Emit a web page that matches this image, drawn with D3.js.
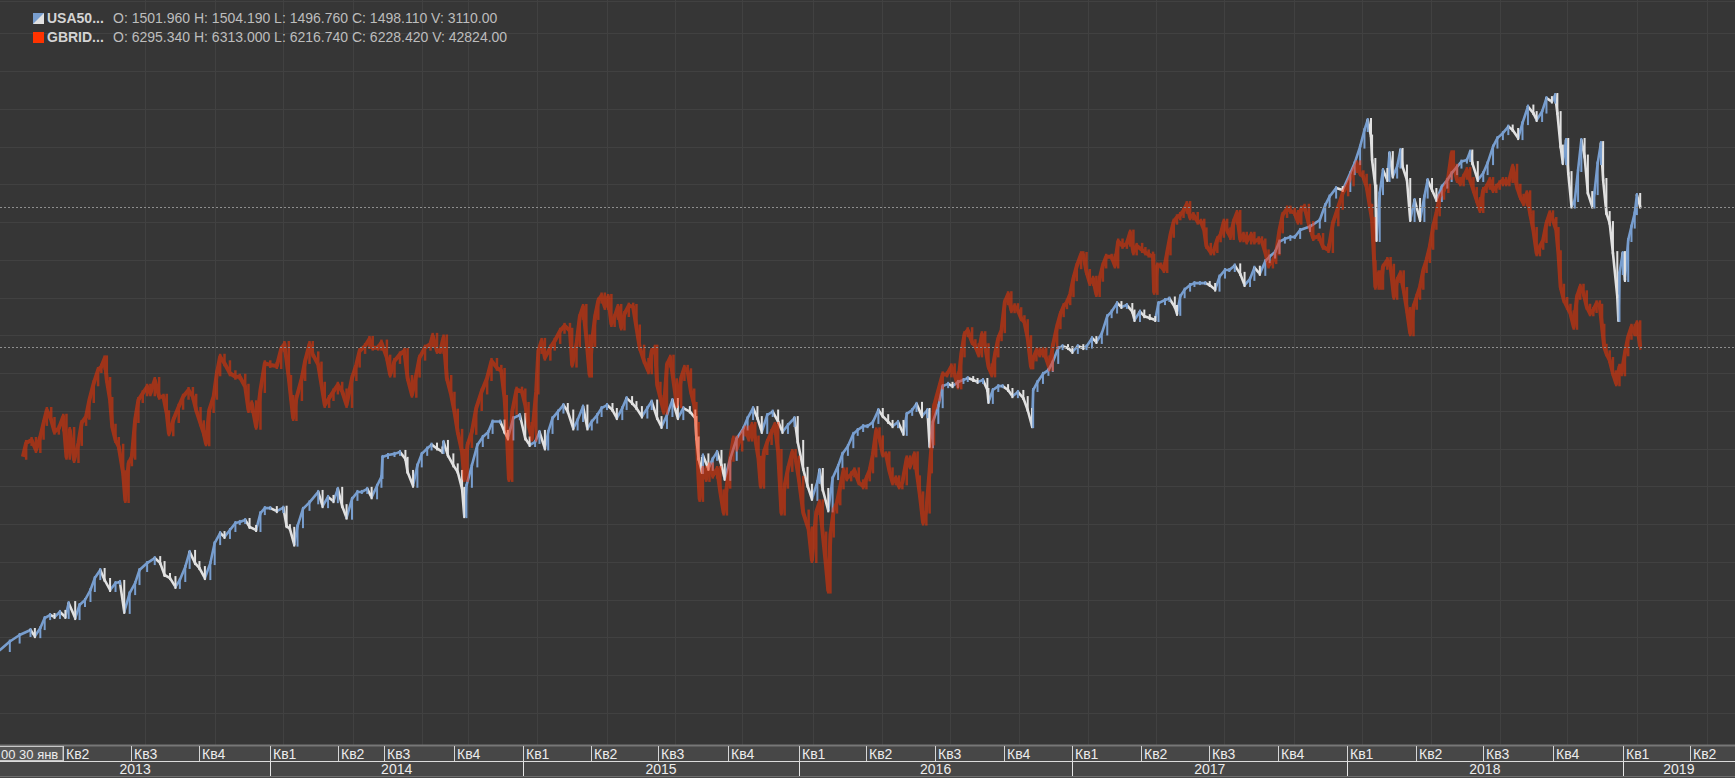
<!DOCTYPE html>
<html>
<head>
<meta charset="utf-8">
<script src="https://cdn.jsdelivr.net/npm/d3@7"></script>
<style>
  html, body { margin: 0; padding: 0; background: #363636; overflow: hidden; }
  svg { display: block; font-family: "Liberation Sans", Arial, sans-serif; }
</style>
</head>
<body>
<div id="chart"></div>
<script>
// bar index (trading bars from 30 Jan 2013) and price
const usaBar = [0,9,18,28,32,37,41,46,50,55,60,63,69,73,78,83,87,92,96,101,106,110,114,119,124,128,135,142,147,151,156,161,165,170,174,179,183,188,193,197,202,206,211,216,220,225,229,235,239,243,248,254,260,263,266,270,273,278,284,292,296,301,306,310,314,318,323,328,332,337,341,346,350,351,356,362,367,372,374,379,383,387,392,396,401,406,407,411,416,420,424,426,428,433,438,443,448,452,459,463,466,471,477,482,486,491,495,500,503,507,512,517,521,526,530,535,539,543,548,552,557,562,566,571,575,580,584,589,594,598,603,607,612,617,622,627,633,638,639,641,644,645,650,654,658,662,665,670,676,682,686,691,695,699,704,709,714,718,723,729,732,737,741,745,750,752,755,760,764,769,773,778,783,787,792,796,801,806,810,815,819,824,829,832,837,841,846,851,853,856,861,865,870,874,879,884,888,893,897,902,906,907,911,916,920,925,929,934,939,943,947,948,952,957,962,966,971,975,980,984,989,994,997,1002,1006,1011,1016,1020,1025,1029,1034,1039,1041,1046,1050,1055,1060,1063,1069,1073,1078,1080,1083,1087,1092,1096,1101,1106,1110,1115,1119,1124,1128,1133,1138,1142,1147,1151,1156,1161,1165,1170,1174,1179,1184,1188,1193,1202,1211,1216,1220,1226,1232,1239,1243,1248,1252,1255,1258,1259,1262,1263,1266,1269,1273,1275,1278,1282,1285,1287,1291,1294,1298,1303,1307,1310,1314,1318,1323,1328,1332,1337,1341,1346,1349,1351,1356,1361,1365,1370,1374,1379,1384,1388,1393,1397,1402,1407,1410,1415,1419,1424,1427,1429,1432,1434,1437,1439,1442,1445,1448,1451,1454,1457,1461,1463,1466,1469,1471,1474,1477,1480,1484,1485,1486,1489,1491,1494,1497,1500,1502,1505];
const usaClose = [1500,1522,1539,1552,1536,1557,1583,1591,1586,1599,1586,1622,1583,1617,1630,1656,1687,1708,1682,1656,1674,1677,1599,1648,1674,1708,1726,1739,1726,1695,1687,1664,1682,1716,1755,1726,1713,1687,1726,1778,1804,1794,1812,1830,1833,1838,1820,1812,1856,1869,1869,1861,1870,1822,1815,1774,1822,1867,1884,1911,1874,1898,1887,1919,1874,1844,1893,1911,1911,1919,1897,1927,1950,2002,2007,2010,2015,1997,1963,1927,1980,2010,2024,2034,2024,2015,2041,2006,1980,1963,1919,1848,1927,1980,2033,2054,2067,2094,2094,2067,2050,2103,2111,2050,2033,2041,2067,2024,2067,2103,2120,2137,2120,2076,2098,2133,2076,2094,2111,2129,2137,2124,2103,2129,2155,2142,2129,2107,2129,2146,2103,2080,2111,2150,2103,2129,2120,2103,2050,1997,1963,2006,1971,1997,2015,1980,1945,1997,2050,2076,2103,2129,2103,2067,2111,2120,2094,2067,2085,2103,2041,1971,1927,1893,1937,1968,1916,1863,1947,1978,2010,2030,2062,2072,2082,2082,2093,2124,2108,2093,2082,2093,2062,2114,2124,2140,2108,2124,2030,2093,2134,2186,2192,2186,2197,2202,2207,2202,2197,2202,2176,2145,2176,2186,2186,2176,2160,2171,2155,2124,2082,2176,2197,2218,2228,2249,2285,2290,2285,2275,2290,2285,2289,2311,2301,2323,2368,2380,2402,2392,2397,2380,2358,2380,2368,2363,2358,2402,2410,2414,2392,2374,2420,2437,2449,2454,2454,2454,2449,2437,2471,2488,2488,2500,2478,2449,2465,2494,2478,2511,2523,2535,2562,2569,2574,2574,2592,2601,2618,2657,2679,2701,2696,2740,2766,2809,2852,2878,2835,2774,2705,2566,2688,2748,2722,2792,2731,2757,2800,2757,2722,2618,2670,2618,2679,2722,2696,2670,2705,2722,2740,2757,2770,2774,2796,2766,2722,2740,2766,2809,2831,2844,2861,2852,2831,2870,2913,2896,2878,2900,2935,2926,2943,2896,2809,2766,2826,2740,2653,2670,2748,2826,2783,2688,2653,2688,2766,2818,2722,2636,2610,2532,2419,2358,2480,2532,2462,2566,2601,2636,2683,2653];

const gbrBar = [21,24,29,33,37,40,43,47,50,54,58,61,64,68,72,75,79,82,86,90,93,96,98,101,103,106,109,113,115,118,121,124,127,131,135,138,142,146,150,153,155,159,164,168,173,177,180,184,187,189,192,196,199,202,206,211,216,220,225,228,231,235,239,243,248,254,258,261,265,267,269,272,277,280,284,287,292,295,298,302,306,310,314,318,323,327,330,335,339,342,347,350,355,358,362,367,371,374,378,382,385,390,395,397,401,404,407,410,414,417,420,424,426,429,433,437,442,447,451,456,460,463,465,467,470,474,479,482,485,488,492,494,497,500,505,509,514,518,523,525,529,532,535,538,541,543,546,549,552,555,558,561,564,567,570,573,577,581,584,587,591,595,598,601,603,606,609,612,615,618,621,625,628,631,634,637,639,641,642,645,648,651,654,658,661,664,667,670,673,676,681,684,687,690,693,696,698,701,704,708,711,714,717,720,723,727,730,733,737,742,745,749,752,755,758,760,762,765,768,771,774,777,781,784,788,792,795,798,801,804,807,810,813,816,819,822,825,828,832,835,839,842,844,847,850,853,855,857,859,862,865,869,873,876,879,882,885,888,892,895,898,901,904,907,910,913,916,919,922,925,928,931,934,937,940,943,946,948,951,954,957,960,963,966,970,973,976,979,982,985,988,992,994,997,1000,1003,1006,1009,1012,1015,1020,1023,1026,1030,1034,1037,1040,1043,1048,1051,1054,1058,1059,1062,1065,1068,1071,1074,1077,1080,1083,1086,1089,1092,1095,1099,1102,1105,1107,1111,1114,1117,1120,1123,1126,1129,1132,1135,1138,1141,1144,1148,1151,1155,1158,1161,1164,1168,1171,1174,1177,1181,1184,1188,1191,1194,1197,1201,1205,1210,1214,1219,1223,1228,1232,1237,1242,1245,1248,1251,1254,1257,1259,1261,1262,1265,1267,1269,1273,1276,1279,1282,1285,1288,1291,1294,1297,1300,1303,1306,1309,1312,1315,1318,1321,1325,1329,1332,1334,1337,1340,1343,1346,1349,1352,1355,1358,1361,1364,1367,1370,1373,1376,1379,1382,1385,1388,1392,1395,1398,1401,1404,1407,1410,1413,1416,1419,1422,1425,1428,1430,1432,1435,1438,1441,1444,1447,1450,1453,1456,1459,1462,1465,1468,1470,1472,1474,1477,1480,1483,1486,1488,1491,1494,1497,1500,1502,1505];
const gbrClose = [6321,6397,6413,6358,6431,6507,6578,6523,6459,6477,6541,6321,6468,6303,6397,6507,6541,6633,6725,6798,6816,6862,6743,6633,6486,6413,6376,6230,6083,6285,6321,6523,6633,6670,6706,6670,6743,6651,6651,6560,6450,6523,6596,6651,6688,6651,6578,6505,6450,6395,6578,6651,6780,6871,6835,6780,6761,6761,6706,6578,6615,6486,6688,6835,6826,6820,6914,6941,6754,6644,6534,6644,6754,6848,6941,6884,6828,6717,6606,6644,6680,6717,6680,6606,6754,6828,6903,6930,6969,6921,6921,6949,6866,6773,6848,6884,6903,6754,6662,6773,6866,6921,6941,6986,6903,6903,6977,6754,6662,6569,6458,6347,6199,6386,6458,6589,6680,6754,6848,6810,6793,6644,6458,6199,6569,6690,6680,6606,6496,6421,6680,6903,6958,6866,6921,6958,7014,7041,7014,6828,6941,7090,7145,6977,6773,6941,7090,7180,7208,7145,7200,7051,7090,7145,7032,7106,7152,7145,7032,6921,6848,6791,6903,6921,6717,6644,6569,6828,6866,6736,6606,6754,6810,6791,6680,6606,6496,6199,6089,6254,6199,6273,6217,6254,6125,6014,6162,6310,6421,6366,6449,6476,6421,6496,6421,6310,6162,6347,6402,6457,6496,6347,6014,6162,6254,6347,6310,6199,6014,5921,5753,6017,6070,5893,5717,5585,5893,6025,6070,6158,6246,6202,6224,6246,6180,6158,6202,6246,6334,6466,6422,6334,6334,6246,6180,6202,6158,6180,6312,6268,6334,6202,6114,5959,6025,6246,6400,6598,6642,6708,6774,6774,6818,6774,6708,6884,6995,7017,6951,6929,6884,6995,6929,6818,6774,6884,6973,7017,7171,7215,7127,7149,7127,7083,7061,6973,6818,6862,6906,6884,6906,6862,6807,6929,7039,7105,7149,7171,7215,7303,7369,7435,7431,7337,7277,7300,7216,7300,7373,7421,7421,7373,7505,7481,7493,7554,7445,7481,7458,7445,7433,7421,7228,7373,7373,7348,7445,7542,7614,7638,7651,7674,7711,7638,7651,7614,7614,7566,7481,7445,7458,7517,7542,7614,7566,7530,7614,7662,7517,7542,7505,7542,7505,7517,7505,7445,7373,7397,7445,7566,7651,7686,7674,7662,7614,7686,7696,7601,7524,7535,7476,7458,7605,7696,7770,7825,7898,7935,7880,7861,7806,7696,7623,7385,7256,7330,7256,7366,7403,7366,7201,7293,7330,7238,7128,7000,7146,7201,7256,7348,7403,7476,7586,7660,7751,7788,7861,7990,7916,7843,7825,7861,7898,7843,7788,7733,7678,7788,7806,7843,7788,7806,7825,7843,7825,7843,7916,7806,7751,7715,7770,7660,7568,7440,7476,7513,7605,7660,7623,7568,7440,7256,7183,7146,7110,7036,7201,7256,7220,7146,7110,7128,7165,7146,7036,6926,6890,6853,6780,6725,6816,6780,6890,6981,7036,7000,7055,6926];

// time axis: first bar of every quarter, year starts, grid bars
const quarterBars = [58,120,183,248,310,352,417,480,542,604,668,733,795,858,921,984,1047,1109,1173,1236,1299,1361,1425,1489,1551];
const quarterLabels = ["Кв2","Кв3","Кв4","Кв1","Кв2","Кв3","Кв4","Кв1","Кв2","Кв3","Кв4","Кв1","Кв2","Кв3","Кв4","Кв1","Кв2","Кв3","Кв4","Кв1","Кв2","Кв3","Кв4","Кв1","Кв2"];
const yearBars = [0,248,480,733,984,1236,1489];
const yearLabels = ["2013","2014","2015","2016","2017","2018","2019"];
const gridBars = [133,197,260,324,387,429,493,557,619,681,746,809,872,935,998,1061,1123,1187,1250,1313,1376,1438,1502,1566];
const cursorLabel = "00 30 янв";

const legendNames = ["USA50...", "GBRID..."];
const legendValues = [
    "O: 1501.960 H: 1504.190 L: 1496.760 C: 1498.110 V: 3110.00",
    "O: 6295.340 H: 6313.000 L: 6216.740 C: 6228.420 V: 42824.00"
];

const W = 1735, H = 778, axisTop = 745;
const upColor = "#789ecf", downColor = "#e1e1e1", gbrColor = "#ff3300";

const svg = d3.select("#chart").append("svg")
    .attr("width", W).attr("height", H);

svg.append("rect").attr("width", W).attr("height", H).attr("fill", "#363636");

const x = d3.scaleLinear().domain([0, 1592]).range([0, W]);
const yUsa = d3.scaleLinear().domain([1500, 3000]).range([650, 73.1]);
const yGbr = d3.scaleLinear().domain([5500, 8000]).range([606, 151.5]);

svg.append("clipPath").attr("id", "plot")
    .append("rect").attr("width", W).attr("height", axisTop);

//Rejilla
const grid = svg.append("g").attr("stroke", "#414141").attr("stroke-width", 1);
grid.selectAll("line.h")
    .data(d3.range(33.4, axisTop, 37.75).concat([1]))
    .enter().append("line")
    .attr("x1", 0).attr("x2", W)
    .attr("y1", d => Math.round(d) + 0.5).attr("y2", d => Math.round(d) + 0.5);
grid.selectAll("line.v")
    .data(gridBars)
    .enter().append("line")
    .attr("x1", d => Math.round(x(d)) + 0.5).attr("x2", d => Math.round(x(d)) + 0.5)
    .attr("y1", 0).attr("y2", axisTop);

const plot = svg.append("g").attr("clip-path", "url(#plot)");

// each step drawn as a bar from previous close to close (candle body) plus joining segment
function barsFor(g, pts, y, pad, width, colorFn) {
    g.selectAll("line.b")
        .data(d3.pairs(pts))
        .enter().append("line")
        .attr("x1", d => x(d[1][0])).attr("x2", d => x(d[1][0]))
        .attr("y1", d => Math.min(y(d[0][1]), y(d[1][1])) - pad)
        .attr("y2", d => Math.max(y(d[0][1]), y(d[1][1])) + pad)
        .attr("stroke", colorFn)
        .attr("stroke-width", width);
}

//USA500: subida azul, bajada blanca
const usa = d3.zip(usaBar, usaClose);
const usaColor = d => d[1][1] >= d[0][1] ? upColor : downColor;
const gu = plot.append("g");
gu.selectAll("line.s")
    .data(d3.pairs(usa))
    .enter().append("line")
    .attr("x1", d => x(d[0][0])).attr("y1", d => yUsa(d[0][1]))
    .attr("x2", d => x(d[1][0])).attr("y2", d => yUsa(d[1][1]))
    .attr("stroke", usaColor)
    .attr("stroke-width", 2.6)
    .attr("stroke-linecap", "round");
barsFor(gu, usa, yUsa, 2, 2, usaColor);

//GBRIDX encima, semitransparente
const gbr = d3.zip(gbrBar, gbrClose);
const gg = plot.append("g").attr("opacity", 0.52);
gg.append("path")
    .datum(gbr)
    .attr("fill", "none")
    .attr("stroke", gbrColor)
    .attr("stroke-width", 4)
    .attr("stroke-linejoin", "round")
    .attr("d", d3.line().x(d => x(d[0])).y(d => yGbr(d[1])));
barsFor(gg, gbr, yGbr, 3, 2.5, gbrColor);

//Lineas de ultimo precio
const lastLines = [yUsa(usaClose[usaClose.length - 1]), yGbr(gbrClose[gbrClose.length - 1])];
svg.append("g").selectAll("line")
    .data(lastLines)
    .enter().append("line")
    .attr("x1", 0).attr("x2", W)
    .attr("y1", d => Math.round(d) + 0.5).attr("y2", d => Math.round(d) + 0.5)
    .attr("stroke", "#8e8e8e")
    .attr("stroke-width", 1)
    .attr("stroke-dasharray", "2,2");

//Eje de tiempo
const axis = svg.append("g");
axis.append("rect").attr("x", 0).attr("y", axisTop).attr("width", W).attr("height", H - axisTop)
    .attr("fill", "#474747");
axis.append("line").attr("x1", 0).attr("x2", W).attr("y1", axisTop + 0.5).attr("y2", axisTop + 0.5)
    .attr("stroke", "#777").attr("stroke-width", 2);
axis.append("line").attr("x1", 0).attr("x2", W).attr("y1", 761.5).attr("y2", 761.5)
    .attr("stroke", "#dcdcdc");
axis.append("line").attr("x1", 0).attr("x2", W).attr("y1", 776.5).attr("y2", 776.5)
    .attr("stroke", "#6e6e6e");

axis.selectAll("line.q")
    .data(quarterBars)
    .enter().append("line")
    .attr("x1", d => Math.round(x(d)) + 0.5).attr("x2", d => Math.round(x(d)) + 0.5)
    .attr("y1", axisTop + 1).attr("y2", 761)
    .attr("stroke", "#d6d6d6");
axis.selectAll("text.q")
    .data(quarterBars)
    .enter().append("text")
    .attr("x", d => Math.round(x(d)) + 3)
    .attr("y", 759)
    .attr("fill", "#ececec")
    .style("font-size", "14px")
    .text((d, i) => quarterLabels[i]);

axis.selectAll("line.y")
    .data(yearBars.slice(1))
    .enter().append("line")
    .attr("x1", d => Math.round(x(d)) + 0.5).attr("x2", d => Math.round(x(d)) + 0.5)
    .attr("y1", 762).attr("y2", 776)
    .attr("stroke", "#e6e6e6");
axis.selectAll("text.y")
    .data(yearBars)
    .enter().append("text")
    .attr("x", (d, i) => (x(d) + (i < yearBars.length - 1 ? x(yearBars[i + 1]) : W)) / 2)
    .attr("y", 774)
    .attr("text-anchor", "middle")
    .attr("fill", "#ececec")
    .style("font-size", "14px")
    .text((d, i) => yearLabels[i]);

//Etiqueta del cursor
const cx = Math.round(x(quarterBars[0]));
axis.append("rect")
    .attr("x", -1).attr("y", axisTop + 1.5).attr("width", cx + 1).attr("height", 14)
    .attr("fill", "#575757").attr("stroke", "#c8c8c8");
axis.append("text")
    .attr("x", 1).attr("y", 759)
    .attr("fill", "#ececec")
    .style("font-size", "13px")
    .text(cursorLabel);

//Leyenda
const legend = svg.append("g");
const rowY = [23, 42];
legend.append("rect")
    .attr("x", 33).attr("y", 13).attr("width", 11).attr("height", 11)
    .attr("fill", downColor);
legend.append("path")
    .attr("d", "M33,13H44L33,24Z")
    .attr("fill", upColor);
legend.append("rect")
    .attr("x", 33).attr("y", 32).attr("width", 11).attr("height", 11)
    .attr("fill", gbrColor);

legend.selectAll("text.n")
    .data(legendNames)
    .enter().append("text")
    .attr("x", 47).attr("y", (d, i) => rowY[i])
    .attr("fill", "#d4d4d4")
    .style("font-size", "14px")
    .style("font-weight", "bold")
    .text(d => d);
legend.selectAll("text.v")
    .data(legendValues)
    .enter().append("text")
    .attr("x", 113).attr("y", (d, i) => rowY[i])
    .attr("fill", "#bdbdbd")
    .style("font-size", "14px")
    .text(d => d);
</script>
</body>
</html>
